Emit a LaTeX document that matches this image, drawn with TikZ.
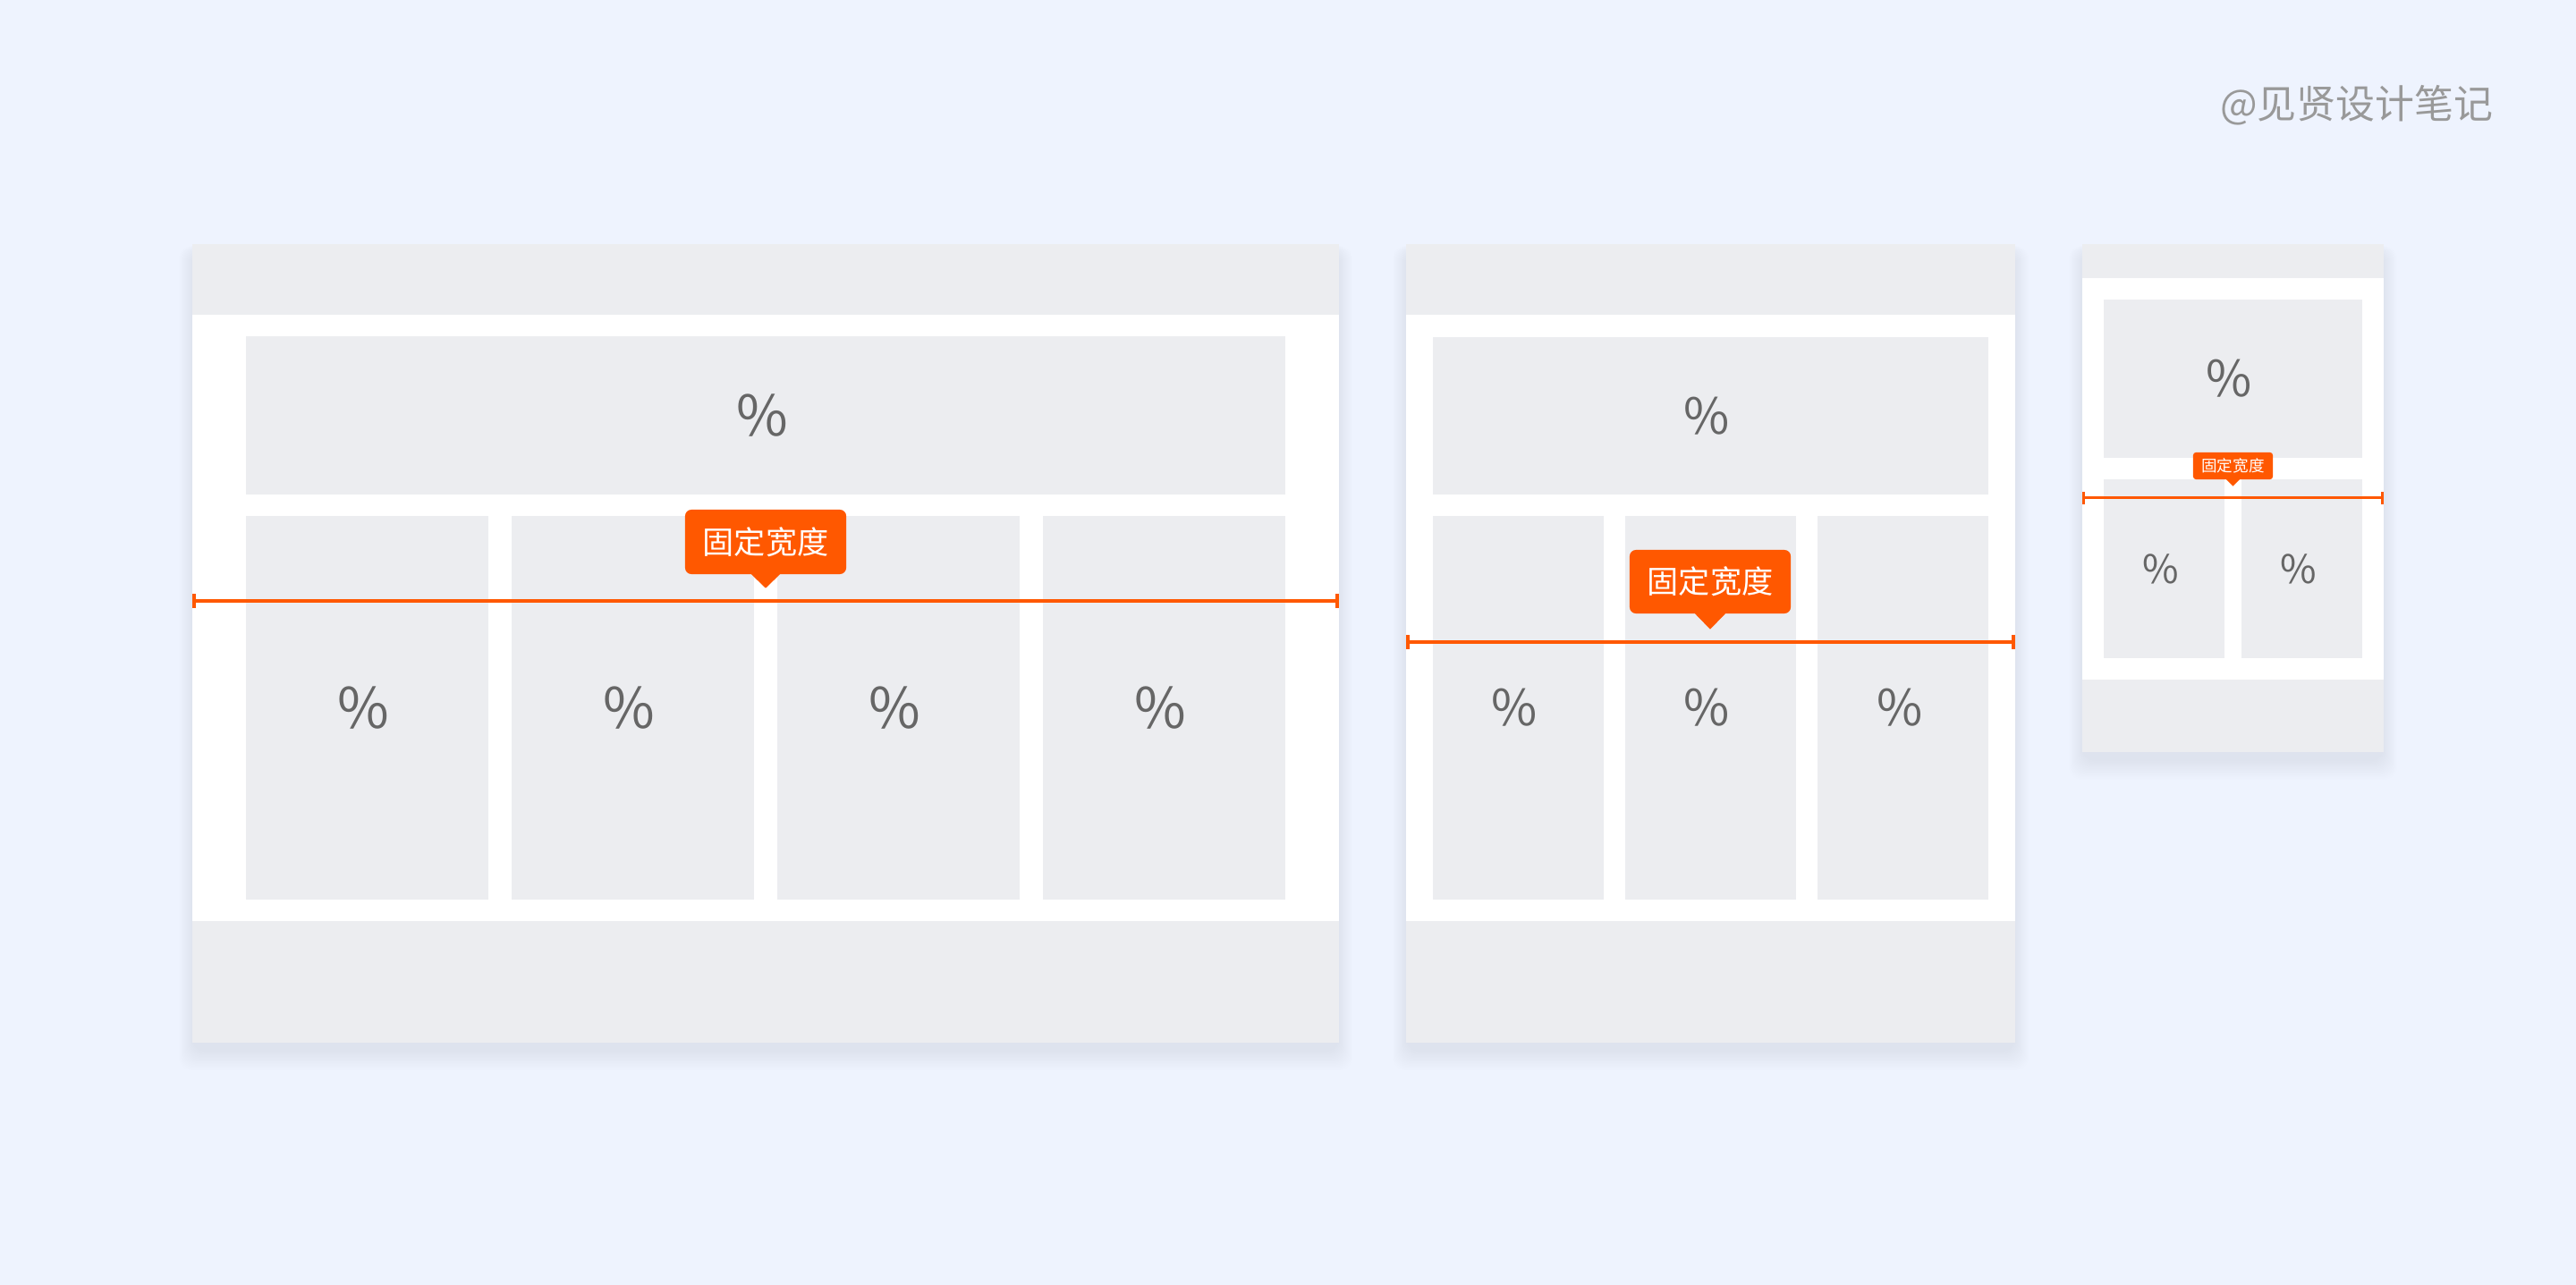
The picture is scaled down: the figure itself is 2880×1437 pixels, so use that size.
\documentclass[tikz,border=0pt]{standalone}
\usepackage{fontspec}
\newfontfamily\cjk{Noto Sans CJK SC}
\usetikzlibrary{arrows.meta,calc}
\definecolor{bg}{RGB}{238,243,254}
\definecolor{gboxc}{RGB}{236,237,240}
\definecolor{org}{RGB}{255,88,0}
\definecolor{pct}{RGB}{102,102,102}
\definecolor{wmc}{RGB}{153,153,153}
\definecolor{shd}{RGB}{145,150,180}
\newcommand\frameshadow[4]{%
  \foreach \i in {0,2,...,30}{%
    \fill[shd, opacity=0.009, rounded corners=0.15cm]
      (#1-\i*0.5, #2+8-\i*0.2) rectangle (#3+\i*0.5, #4+10+\i*0.7);
  }}
\newcommand\pc{\kern-0.08cm\%}
\begin{document}
\begin{tikzpicture}[x=0.01cm,y=-0.01cm,
  cell/.style={fill=gboxc, inner sep=0pt, text=pct, font=\cjk\fontsize{#1}{#1}\selectfont},
  tipbox/.style={fill=org, text=white, inner sep=0pt, font=\cjk\fontsize{#1}{#1}\selectfont},
  mline/.style={draw=org, line width=0.038cm, {Bar[width=0.16cm]}-{Bar[width=0.16cm]}},
  smline/.style={draw=org, line width=0.03cm, {Bar[width=0.14cm]}-{Bar[width=0.14cm]}}]
\fill[bg] (0,0) rectangle (2880,1437);
\useasboundingbox (0,0) rectangle (2880,1437);

% watermark
\node[font=\cjk\fontsize{12.5pt}{12.5pt}\selectfont, text=wmc, inner sep=0pt] (wm) at (2635,118) {@见贤设计笔记};

% ---------- big frame ----------
\frameshadow{215}{273}{1497}{1166}
\fill[white] (215,273) rectangle (1497,1166);
\fill[gboxc] (215,273) rectangle (1497,352);
\fill[gboxc] (215,1030) rectangle (1497,1166);
\node[cell=17.8pt, minimum width=11.61cm, minimum height=1.765cm] (b0) at (856,464.75) {\pc};
\node[cell=17.8pt, minimum width=2.70cm, minimum height=4.29cm] (b1) at (410.5,791.5) {\pc};
\node[cell=17.8pt, minimum width=2.70cm, minimum height=4.29cm] (b2) at (707.5,791.5) {\pc};
\node[cell=17.8pt, minimum width=2.70cm, minimum height=4.29cm] (b3) at (1004.5,791.5) {\pc};
\node[cell=17.8pt, minimum width=2.70cm, minimum height=4.29cm] (b4) at (1301.5,791.5) {\pc};
\node[tipbox=10pt, minimum width=1.8cm, minimum height=0.72cm, rounded corners=0.07cm] (t1) at (856,606) {固定宽度};
\fill[org] ($(t1.south)+(-16,-0.5)$) -- ($(t1.south)+(0,15)$) -- ($(t1.south)+(16,-0.5)$) -- cycle;
\coordinate (l1a) at (215,672);
\coordinate (l1b) at (1497,672);
\draw[mline] (l1a) -- (l1b);

% ---------- middle frame ----------
\frameshadow{1572}{273}{2253}{1166}
\fill[white] (1572,273) rectangle (2253,1166);
\fill[gboxc] (1572,273) rectangle (2253,352);
\fill[gboxc] (1572,1030) rectangle (2253,1166);
\node[cell=15.8pt, minimum width=6.21cm, minimum height=1.76cm] (m0) at (1912.5,465) {\pc};
\node[cell=15.8pt, minimum width=1.905cm, minimum height=4.29cm] (m1) at (1697.25,791.5) {\pc};
\node[cell=15.8pt, minimum width=1.905cm, minimum height=4.29cm] (m2) at (1912.25,791.5) {\pc};
\node[cell=15.8pt, minimum width=1.905cm, minimum height=4.29cm] (m3) at (2127.75,791.5) {\pc};
\node[tipbox=10pt, minimum width=1.8cm, minimum height=0.71cm, rounded corners=0.07cm] (t2) at (1912,650.5) {固定宽度};
\fill[org] ($(t2.south)+(-17,-0.5)$) -- ($(t2.south)+(0,17)$) -- ($(t2.south)+(17,-0.5)$) -- cycle;
\coordinate (l2a) at (1572,718);
\coordinate (l2b) at (2253,718);
\draw[mline] (l2a) -- (l2b);

% ---------- small frame ----------
\frameshadow{2328}{273}{2665}{841}
\fill[white] (2328,273) rectangle (2665,841);
\fill[gboxc] (2328,273) rectangle (2665,311);
\fill[gboxc] (2328,760) rectangle (2665,841);
\node[cell=15.8pt, minimum width=2.89cm, minimum height=1.77cm] (s0) at (2496.5,423.5) {\pc};
\node[cell=12.5pt, minimum width=1.35cm, minimum height=2.00cm] (s1) at (2419.5,636) {\pc};
\node[cell=12.5pt, minimum width=1.35cm, minimum height=2.00cm] (s2) at (2573.5,636) {\pc};
\node[tipbox=5pt, minimum width=0.89cm, minimum height=0.30cm, rounded corners=0.03cm] (t3) at (2496.5,521) {固定宽度};
\fill[org] ($(t3.south)+(-7.5,-0.5)$) -- ($(t3.south)+(0,7)$) -- ($(t3.south)+(7.5,-0.5)$) -- cycle;
\coordinate (l3a) at (2328,557);
\coordinate (l3b) at (2665,557);
\draw[smline] (l3a) -- (l3b);
\end{tikzpicture}
\end{document}
